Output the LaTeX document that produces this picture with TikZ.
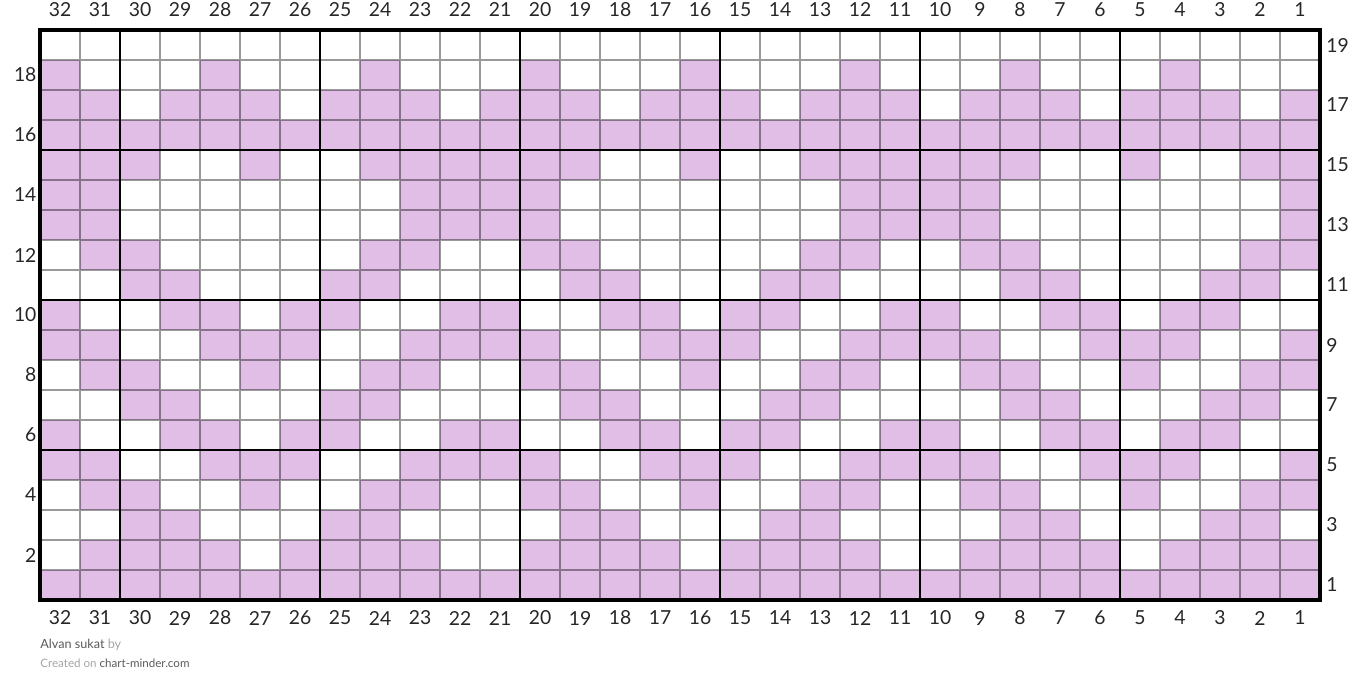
\documentclass[tikz,border=0pt]{standalone}
\usepackage{fontspec}
\setmainfont{Lato}
\definecolor{stitchfill}{RGB}{224,190,230}
\definecolor{footdark}{RGB}{90,90,90}
\definecolor{footlight}{RGB}{165,165,165}
\tikzset{
  numlabel/.style={font=\fontsize{11}{13}\selectfont, text=black!85, inner sep=0pt},
  thinline/.style={black, opacity=0.4, line width=0.6pt},
  thickline/.style={black, line width=1.4pt},
}
\begin{document}
\begin{tikzpicture}[x=0.8cm, y=0.6cm]
    \useasboundingbox (-1,-3.1) rectangle (33,20);
    % 填充的格子：行/列
    \foreach \r/\cols in {
        18/{32,28,24,20,16,12,8,4},
        17/{32,31,29,28,27,25,24,23,21,20,19,17,16,15,13,12,11,9,8,7,5,4,3,1},
        16/{1,...,32},
        15/{32,31,30,27,24,23,22,21,20,19,16,13,12,11,10,9,8,5,2,1},
        14/{32,31,23,22,21,20,12,11,10,9,1},
        13/{32,31,23,22,21,20,12,11,10,9,1},
        12/{31,30,24,23,20,19,13,12,9,8,2,1},
        11/{30,29,25,24,19,18,14,13,8,7,3,2},
        10/{32,29,28,26,25,22,21,18,17,15,14,11,10,7,6,4,3},
        9/{32,31,28,27,26,23,22,21,20,17,16,15,12,11,10,9,6,5,4,1},
        8/{31,30,27,24,23,20,19,16,13,12,9,8,5,2,1},
        7/{30,29,25,24,19,18,14,13,8,7,3,2},
        6/{32,29,28,26,25,22,21,18,17,15,14,11,10,7,6,4,3},
        5/{32,31,28,27,26,23,22,21,20,17,16,15,12,11,10,9,6,5,4,1},
        4/{31,30,27,24,23,20,19,16,13,12,9,8,5,2,1},
        3/{30,29,25,24,19,18,14,13,8,7,3,2},
        2/{31,30,29,28,26,25,24,23,20,19,18,17,15,14,13,12,9,8,7,6,4,3,2,1},
        1/{1,...,32}}{
        \foreach \c in \cols
            \fill[stitchfill] (32-\c,\r-1) rectangle (33-\c,\r);
    }
    % 细网格
    \draw[thinline, step=1] (0,0) grid (32,19);
    % 每5针/5行的粗线
    \foreach \x in {2,7,...,27}
        \draw[thickline] (\x,0) -- (\x,19);
    \foreach \y in {5,10,15}
        \draw[thickline] (0,\y) -- (32,\y);
    \draw[thickline, line width=2pt] (0,0) rectangle (32,19);
    % 针数编号
    \foreach \c in {1,...,32}{
        \node[numlabel] (top\c) at (32.5-\c,19.67) {\c};
        \node[numlabel] (bot\c) at (32.5-\c,-0.6) {\c};
    }
    % 行数编号
    \foreach \r in {2,4,...,18}
        \node[numlabel, anchor=east] (row\r) at (-0.08,\r-0.5) {\r};
    \foreach \r in {1,3,...,19}
        \node[numlabel, anchor=west] (row\r) at (32.15,\r-0.5) {\r};
    % 页脚
    \node[anchor=west, inner sep=0pt, font=\fontsize{7.2}{8}\selectfont] (title) at (0,-1.5)
        {\textcolor{footdark}{Alvan sukat} \textcolor{footlight}{by}};
    \node[anchor=west, inner sep=0pt, font=\fontsize{6.6}{8}\selectfont] (credit) at (0,-2.1)
        {\textcolor{footlight}{Created on} \textcolor{footdark}{chart-minder.com}};
\end{tikzpicture}
\end{document}
